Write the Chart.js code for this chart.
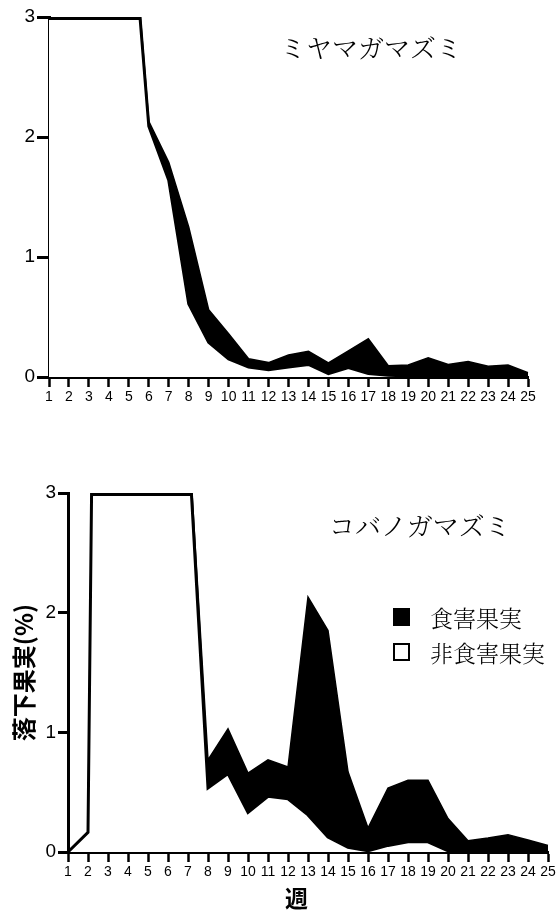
<!DOCTYPE html>
<html>
<head>
<meta charset="utf-8">
<script src="https://cdn.jsdelivr.net/npm/chart.js@4.4.1/dist/chart.umd.min.js"></script>
<style>
  html, body { margin: 0; padding: 0; background: #fff; width: 559px; height: 910px; overflow: hidden; }
  canvas { position: absolute; left: 0; }
  .lbl { position: absolute; white-space: nowrap; color: #000; line-height: 1; }
  .title { font-family: "Noto Serif CJK JP", "Noto Sans CJK JP", serif; font-weight: 300; font-size: 26px; }
  .leg { font-family: "Noto Serif CJK JP", "Noto Sans CJK JP", serif; font-weight: 300; font-size: 23px; }
  .box { position: absolute; width: 17px; height: 18px; border: 2px solid #000; box-sizing: border-box; }
</style>
</head>
<body>
<canvas id="chartTop" width="559" height="420" style="top:0"></canvas>
<canvas id="chartBottom" width="559" height="440" style="top:470px"></canvas>

<div class="lbl title" style="left:280px; top:34px;">ミヤマガマズミ</div>
<div class="lbl title" style="left:329px; top:512px;">コバノガマズミ</div>

<div class="box" style="left:393px; top:608px; background:#000;"></div>
<div class="lbl leg" style="left:430px; top:606px;">食害果実</div>
<div class="box" style="left:393px; top:643px; background:#fff;"></div>
<div class="lbl leg" style="left:430px; top:641px;">非食害果実</div>

<div class="lbl" style="left:285px; top:886px; font-family:'Noto Sans CJK JP', sans-serif; font-weight:700; font-size:23px;">週</div>

<script>
/* ── Data (落下果実 %, per week) ── */
var weeks = ['1','2','3','4','5','6','7','8','9','10','11','12','13','14','15','16','17','18','19','20','21','22','23','24','25'];

// ミヤマガマズミ
var intactTop  = [6, 7, 6, 5, 4.15, 2.09, 1.64, 0.61, 0.29, 0.15, 0.083, 0.06, 0.083, 0.105, 0.028, 0.078, 0.028, 0.014, 0.01, 0.01, 0.01, 0.01, 0.01, 0.01, 0.01];
var damagedTop = [0.1, 0.1, 0.1, 0.1, 0.05, 0.04, 0.15, 0.64, 0.27, 0.21, 0.07, 0.06, 0.10, 0.11, 0.09, 0.14, 0.29, 0.08, 0.09, 0.15, 0.095, 0.12, 0.08, 0.09, 0.026];

// コバノガマズミ
var intactBottom  = [0, 0.164, 16, 12, 9, 6, 3.5, 0.535, 0.655, 0.33, 0.465, 0.445, 0.31, 0.125, 0.04, 0.01, 0.055, 0.085, 0.085, 0.01, 0.01, 0.01, 0.01, 0.01, 0.01];
var damagedBottom = [0, 0, 0.1, 0.1, 0.1, 0.1, 0.06, 0.235, 0.375, 0.33, 0.305, 0.265, 1.82, 1.725, 0.63, 0.19, 0.48, 0.515, 0.515, 0.27, 0.085, 0.107, 0.135, 0.09, 0.045];

var yTicks = [0, 1, 2, 3];

/* ── Black edge where the stack runs off the top of the axis ── */
var topEdge = {
  id: 'topEdge',
  afterDatasetsDraw: function(chart) {
    var a = chart.chartArea;
    var pts = chart.getDatasetMeta(chart.data.datasets.length - 1).data;
    var ctx = chart.ctx;
    ctx.save();
    ctx.beginPath();
    ctx.rect(a.left, a.top, a.right - a.left, a.bottom - a.top);
    ctx.clip();
    ctx.beginPath();
    ctx.moveTo(pts[0].x, a.bottom);
    pts.forEach(function(p) { ctx.lineTo(p.x, p.y); });
    ctx.lineTo(pts[pts.length - 1].x, a.bottom);
    ctx.closePath();
    ctx.clip();
    ctx.fillStyle = '#000';
    ctx.fillRect(a.left, a.top, a.right - a.left, 3);
    ctx.restore();
  }
};

function buildChart(canvasId, intact, damaged, opt) {
  return new Chart(document.getElementById(canvasId), {
    type: 'line',
    data: {
      labels: weeks,
      datasets: [
        {
          label: '非食害果実',
          data: intact,
          fill: 'origin',
          backgroundColor: '#fff',
          borderColor: '#000',
          borderWidth: 3,
          pointRadius: 0,
          tension: 0
        },
        {
          label: '食害果実',
          data: damaged,
          fill: '-1',
          backgroundColor: '#000',
          borderColor: '#000',
          borderWidth: 1.5,
          pointRadius: 0,
          tension: 0
        }
      ]
    },
    options: {
      responsive: false,
      animation: false,
      layout: { padding: { top: opt.padTop, right: opt.padRight, left: 0, bottom: 0 } },
      plugins: { legend: { display: false }, tooltip: { enabled: false } },
      scales: {
        x: {
          afterFit: function(s) { s.height = opt.xHeight; },
          grid: { drawOnChartArea: false, tickLength: 10, tickWidth: 2.5, tickColor: '#000' },
          border: { color: '#000', width: 3 },
          ticks: {
            color: '#000',
            autoSkip: false,
            maxRotation: 0,
            padding: 2,
            font: { family: 'Liberation Sans, Arial, sans-serif', size: 14 }
          }
        },
        y: {
          stacked: true,
          min: 0,
          max: 3,
          afterFit: function(s) { s.width = opt.yWidth; },
          afterBuildTicks: function(s) { s.ticks = yTicks.map(function(v) { return { value: v }; }); },
          grid: { drawOnChartArea: false, tickLength: opt.yTick, tickWidth: 3, tickColor: '#000' },
          border: { color: '#000', width: 3 },
          ticks: {
            color: '#000',
            padding: 2,
            font: { family: 'Liberation Sans, Arial, sans-serif', size: 19 }
          },
          title: {
            display: !!opt.yTitle,
            text: opt.yTitle || '',
            color: '#000',
            padding: { top: 9, bottom: 0 },
            font: { family: 'Noto Sans CJK JP, sans-serif', size: 24, weight: 'bold' }
          }
        }
      }
    },
    plugins: [topEdge]
  });
}

buildChart('chartTop', intactTop, damagedTop, { padTop: 17, padRight: 31, xHeight: 43, yWidth: 49, yTick: 12 });
buildChart('chartBottom', intactBottom, damagedBottom, { padTop: 23, padRight: 11, xHeight: 58, yWidth: 68, yTick: 10, yTitle: '落下果実(%)' });
</script>
</body>
</html>
